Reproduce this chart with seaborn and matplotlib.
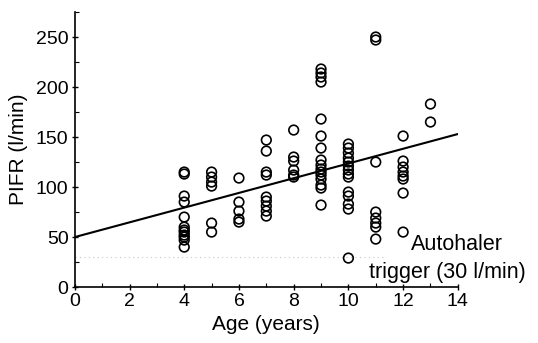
# ------------------
# モジュールインポート
# ------------------
import numpy as np
import matplotlib.pyplot as plt
from matplotlib.ticker import MultipleLocator
import pandas as pd
import seaborn as sns


# ------------------
# データ (年齢ごとの PIFR, l/min)
# ------------------
AGES = [4, 5, 6, 7, 8, 9, 10, 11, 12, 13]
PIFR_AGE4 = [115, 113, 91, 85, 70, 60, 57, 55, 52, 50, 47, 40]
PIFR_AGE5 = [115, 110, 105, 101, 64, 55]
PIFR_AGE6 = [109, 85, 76, 68, 65]
PIFR_AGE7 = [147, 136, 115, 112, 90, 86, 81, 76, 71]
PIFR_AGE8 = [157, 130, 126, 117, 112, 110]
PIFR_AGE9 = [218, 214, 210, 205, 168, 151, 139, 127, 122, 118, 115, 112, 108, 102, 99, 82]
PIFR_AGE10 = [143, 139, 134, 129, 125, 121, 117, 113, 110, 95, 91, 83, 78, 29]
PIFR_AGE11 = [250, 247, 125, 75, 69, 64, 60, 48]
PIFR_AGE12 = [151, 126, 120, 115, 111, 108, 94, 55]
PIFR_AGE13 = [183, 165]

# 回帰直線 (両端)
FIT_AGE = [0, 14]
FIT_PIFR = [50, 153]

# オートヘイラー作動閾値
TRIGGER = 30
TRIGGER_AGE = [0, 11.3]

X_TICKS = [0, 2, 4, 6, 8, 10, 12, 14]
Y_TICKS = [0, 50, 100, 150, 200, 250]


# ------------------
# 図の作成
# ------------------
def main():
	groups = [PIFR_AGE4, PIFR_AGE5, PIFR_AGE6, PIFR_AGE7, PIFR_AGE8,
			  PIFR_AGE9, PIFR_AGE10, PIFR_AGE11, PIFR_AGE12, PIFR_AGE13]
	rows = []
	for age, vals in zip(AGES, groups):
		for v in vals:
			rows.append({'age': age, 'pifr': v})
	df = pd.DataFrame(rows)

	sns.set_style('ticks', {'axes.edgecolor': 'black', 'text.color': 'black',
							'xtick.color': 'black', 'ytick.color': 'black',
							'axes.labelcolor': 'black'})
	plt.rcParams['font.family'] = ['Liberation Sans', 'DejaVu Sans']

	fig = plt.figure(figsize=(5.38, 3.43), dpi=100)
	ax = fig.add_axes([0.139, 0.163, 0.712, 0.802])

	# 閾値の点線
	ax.plot(TRIGGER_AGE, [TRIGGER, TRIGGER], color='#c8c8c8', lw=0.8,
			linestyle=(0, (1, 3)), zorder=1)

	# 回帰直線
	sns.lineplot(x=FIT_AGE, y=FIT_PIFR, ax=ax, color='black', lw=1.5, zorder=2)

	# 散布図 (白抜き円)
	sns.scatterplot(data=df, x='age', y='pifr', ax=ax, s=48, marker='o',
					facecolor='none', edgecolor='black', linewidth=1.2, zorder=3)

	ax.set_xlim(0, 14)
	ax.set_ylim(0, 275)
	ax.set_xticks(X_TICKS)
	ax.set_yticks(Y_TICKS)
	ax.xaxis.set_minor_locator(MultipleLocator(1))
	ax.yaxis.set_minor_locator(MultipleLocator(25))
	ax.tick_params(which='major', direction='inout', length=5, width=1, labelsize=14, pad=2)
	ax.tick_params(which='minor', direction='in', length=3, width=0.8)
	sns.despine(ax=ax)
	for sp in ['left', 'bottom']:
		ax.spines[sp].set_linewidth(1.2)

	ax.set_xlabel('Age (years)', fontsize=15, labelpad=3)
	ax.set_ylabel('PIFR (l/min)', fontsize=15, labelpad=6)

	# 注釈
	ax.text(12.3, 43, 'Autohaler', fontsize=15.5, ha='left', va='center')
	ax.text(10.75, 15, 'trigger (30 l/min)', fontsize=15.5, ha='left', va='center',
			clip_on=False)

	fig.savefig('out.png', dpi=100)


if __name__ == '__main__':
	main()
